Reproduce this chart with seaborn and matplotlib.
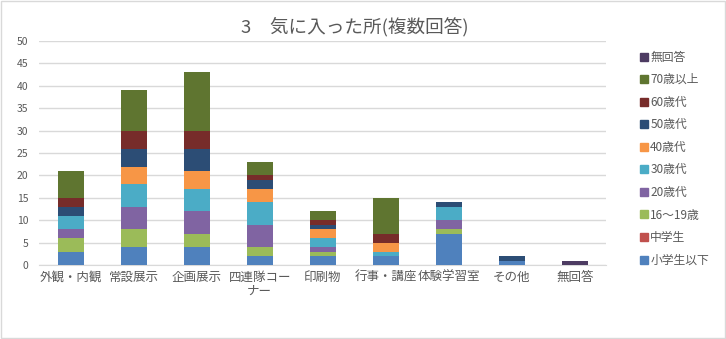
import matplotlib
matplotlib.use("Agg")
import matplotlib.pyplot as plt
from matplotlib.lines import Line2D
from matplotlib.patches import Rectangle
import seaborn as sns
import numpy as np

categories = ["外観・内観", "常設展示", "企画展示", "四連隊コー\nナー", "印刷物", "行事・講座", "体験学習室", "その他", "無回答"]
series_names = ["小学生以下", "中学生", "16〜19歳", "20歳代", "30歳代", "40歳代", "50歳代", "60歳代", "70歳以上", "無回答"]
s_elem   = [3, 4, 4, 2, 2, 2, 7, 1, 0]
s_junior = [0, 0, 0, 0, 0, 0, 0, 0, 0]
s_16_19  = [3, 4, 3, 2, 1, 0, 1, 0, 0]
s_20s    = [2, 5, 5, 5, 1, 0, 2, 0, 0]
s_30s    = [3, 5, 5, 5, 2, 1, 3, 0, 0]
s_40s    = [0, 4, 4, 3, 2, 2, 0, 0, 0]
s_50s    = [2, 4, 5, 2, 1, 0, 1, 1, 0]
s_60s    = [2, 4, 4, 1, 1, 2, 0, 0, 0]
s_70up   = [6, 9, 13, 3, 2, 8, 0, 0, 0]
s_noans  = [0, 0, 0, 0, 0, 0, 0, 0, 1]
series_values = [s_elem, s_junior, s_16_19, s_20s, s_30s, s_40s, s_50s, s_60s, s_70up, s_noans]
colors = ["#4F81BD", "#C0504D", "#9BBB59", "#8064A2", "#4BACC6", "#F79646",
          "#2C4D75", "#772C2A", "#5F7530", "#4D3B62"]
title = "3　気に入った所(複数回答)"
yticks = list(range(0, 51, 5))

sns.set_style("white")
plt.rcParams["font.family"] = ["Noto Sans CJK JP", "DejaVu Sans"]

fig = plt.figure(figsize=(7.26, 3.39), dpi=100)
fig.patch.set_facecolor("white")
ax = fig.add_axes([0.054, 0.218, 0.781, 0.661])

bottom = np.zeros(len(categories))
for name, vals, col in zip(series_names, series_values, colors):
    sns.barplot(x=categories, y=vals, bottom=bottom, color=col, width=0.41,
                ax=ax, errorbar=None, saturation=1, linewidth=0, zorder=3)
    bottom = bottom + np.array(vals)

ax.set_ylim(0, 50)
ax.set_yticks(yticks)
ax.set_xlim(-0.5, len(categories) - 0.5)
ax.yaxis.grid(True, color="#D9D9D9", linewidth=1, zorder=0)
ax.set_axisbelow(True)
for s in ["top", "right", "left"]:
    ax.spines[s].set_visible(False)
ax.spines["bottom"].set_color("#D9D9D9")
ax.tick_params(axis="both", length=0, colors="#595959")
ax.tick_params(axis="y", labelsize=7.5, pad=8)
ax.tick_params(axis="x", labelsize=9, pad=4)
for lbl in ax.get_xticklabels():
    lbl.set_linespacing(1.1)
    lbl.set_verticalalignment("top")
ax.set_xlabel("")
ax.set_ylabel("")

fig.text(0.489, 0.92, title, ha="center", va="center", fontsize=13.4, color="#595959")

handles = [Line2D([0], [0], marker="s", linestyle="", markersize=6,
                  markerfacecolor=c, markeredgecolor=c) for c in colors[::-1]]
leg = fig.legend(handles, series_names[::-1], loc="upper left",
                 bbox_to_anchor=(0.872, 0.868), frameon=False,
                 fontsize=8.5, handlelength=0.8, handletextpad=0.15,
                 labelspacing=0.81, borderpad=0)
for t in leg.get_texts():
    t.set_color("#595959")

fig.add_artist(Rectangle((0.0015, 0.003), 0.997, 0.994, transform=fig.transFigure,
                         fill=False, edgecolor="#D9D9D9", linewidth=1))

fig.savefig("out.png", dpi=100, facecolor="white")
